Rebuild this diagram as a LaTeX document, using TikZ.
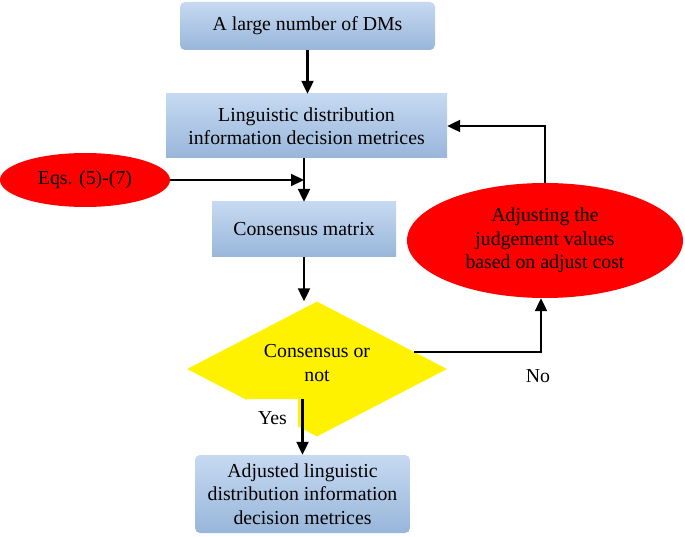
\documentclass[tikz,border=0pt]{standalone}
\usepackage{fontspec}
\setmainfont{Liberation Serif}
\usetikzlibrary{shapes.geometric, arrows.meta, calc}

\definecolor{boxtop}{RGB}{198,217,241}
\definecolor{boxbottom}{RGB}{152,182,218}

\begin{document}
\begin{tikzpicture}[
		x=1pt, y=-1pt,
		every node/.style={anchor=center, font=\fontsize{19.8}{23.5}\selectfont, inner sep=0pt, align=center},
		source/.style={rounded corners=5pt, top color=boxtop, bottom color=boxbottom},
		process/.style={top color=boxtop, bottom color=boxbottom},
		redoval/.style={ellipse, fill=red},
		decision/.style={diamond, fill=yellow},
		to/.style={-{Triangle[length=13pt,width=12pt]}, line width=2.2pt}
		]
		
		\useasboundingbox (0,0) rectangle (685,537);
		
		\node[source, minimum width=255pt, minimum height=48pt] (dms) at (307.5,26) {A large number of DMs};
		\node[process, minimum width=281pt, minimum height=64pt] (ldi) at (306.5,126) {Linguistic distribution\\information decision metrices};
		\node[redoval, minimum width=170pt, minimum height=54pt] (eqs) at (85,180) {Eqs. (5)-(7)};
		\node[process, minimum width=184pt, minimum height=55pt] (cm) at (304,229.5) {Consensus matrix};
		\node[decision, minimum width=260pt, minimum height=135pt] (cons) at (317,369) {};
		\node (constext) at (317,363) {Consensus or\\not};
		\node[redoval, minimum width=276pt, minimum height=115pt] (adj) at (545,240.5) {Adjusting the\\judgement values\\based on adjust cost};
		\node[fill=white, minimum width=51pt, minimum height=38pt] (yes) at (272.5,418) {Yes};
		\node[source, minimum width=215pt, minimum height=78pt] (aldi) at (302.5,494) {Adjusted linguistic\\distribution information\\decision metrices};
		\node (no) at (538,376) {No};
		
		\draw[to] (dms.south) -- (dms.south |- ldi.north);
		\draw[to] (eqs.east) -- (eqs.east -| cm.north);
		\draw[to] (ldi.south -| cm.north) -- (cm.north);
		\draw[to] (cm.south) -- (cm.south |- cons.north);
		\draw[to] (aldi.north |- yes.north) -- (aldi.north);
		\draw[to] (cons.10) -| ($(adj.south)+(-4,0)$);
		\draw[to] (adj.north) |- (ldi.east);
		
\end{tikzpicture}
\end{document}
